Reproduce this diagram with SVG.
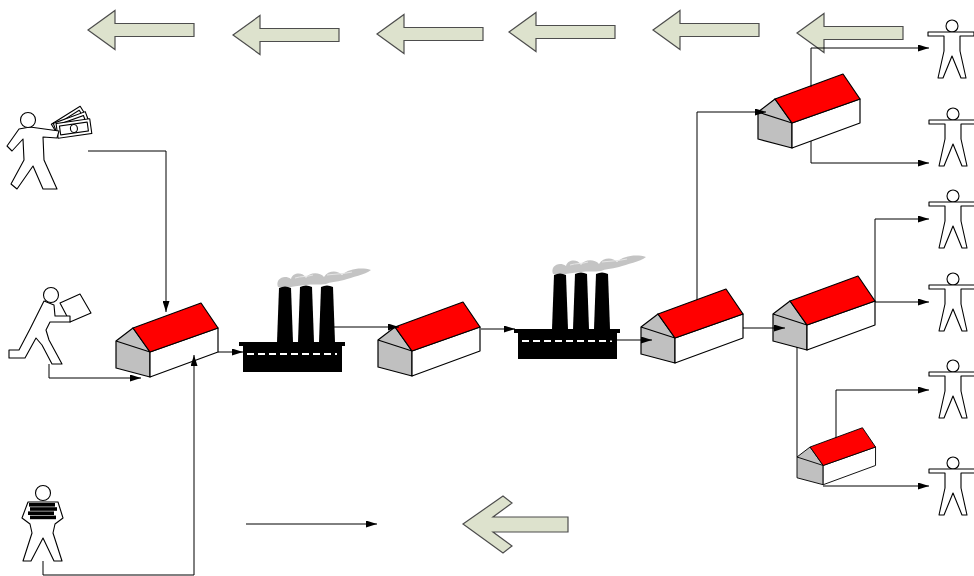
<svg xmlns="http://www.w3.org/2000/svg" xmlns:xlink="http://www.w3.org/1999/xlink" width="974" height="576" viewBox="0 0 974 576">
  <style>
    .bigarrow { fill: #dde2cd; stroke: #4d4d4d; stroke-width: 1.2; stroke-linejoin: miter; }
    .conn { fill: none; stroke: #000; stroke-width: 1; }
    .fig { fill: #fff; stroke: #000; stroke-width: 1.1; stroke-linejoin: round; }
    .wall { fill: #fff; stroke: #000; stroke-width: 1.2; stroke-linejoin: round; }
    .gable { fill: #c0c0c0; stroke: #000; stroke-width: 1.2; stroke-linejoin: round; }
    .roof { fill: #ff0000; stroke: #000; stroke-width: 1.2; stroke-linejoin: round; }
  </style>
  <defs>
    <marker id="ah" viewBox="0 0 10 10" refX="10" refY="5" markerWidth="11" markerHeight="7" markerUnits="userSpaceOnUse" orient="auto" preserveAspectRatio="none">
      <path d="M0,0 L10,5 L0,10 Z" fill="#000"/>
    </marker>
    <!-- left-pointing block arrow, tip at origin -->
    <path id="leftArrow" class="bigarrow" d="M0,0 L27,-19.5 L27,-6.5 L106,-6.5 L106,6.5 L27,6.5 L27,19.5 Z"/>
    <!-- house: origin at top-left corner of the gable end -->
    <g id="house">
      <path class="gable" d="M0,0 L17,-13 L34,11 L34,36 L0,27 Z"/>
      <path class="gable" d="M0,0 L34,11" fill="none"/>
      <path class="wall" d="M34,11 L102,-13 L102,11 L34,36 Z"/>
      <path class="roof" d="M17,-13 L85,-38 L102,-13 L34,11 Z"/>
    </g>
    <!-- factory: origin at top-left of the roof ledge -->
    <g id="factory">
      <path fill="#c4c4c4" d="M39,-55 C36,-63 45,-68 52,-63 C54,-70 64,-70 67,-64 C70,-70 81,-70 85,-65 C89,-72 99,-72 103,-67 C109,-73 122,-75 132,-72 C126,-67 113,-65 105,-62 C97,-60 91,-60 87,-58 C81,-57 73,-58 67,-57 C61,-56 55,-56 52,-55 Z"/>
      <path fill="none" stroke="#e6e6e6" stroke-width="1" d="M56,-64 C62,-66 68,-65 74,-67 M88,-67 C96,-68 104,-68 113,-70"/>
      <path fill="#000" d="M38,0 L40,-54 Q46,-57 52,-54 L54,0 Z"/>
      <path fill="#000" d="M59,0 L61,-55 Q67,-58 73,-55 L75,0 Z"/>
      <path fill="#000" d="M80,0 L82,-55 Q88,-58 94,-55 L96,0 Z"/>
      <rect x="0" y="0" width="106" height="4" fill="#000"/>
      <rect x="4" y="4" width="99" height="26" fill="#000"/>
      <line x1="8" y1="12" x2="98" y2="12" stroke="#fff" stroke-width="2" stroke-dasharray="7 4"/>
    </g>
    <!-- standing person with arms out: origin at top centre of the head -->
    <g id="standing">
      <circle class="fig" cx="0" cy="6" r="6"/>
      <path class="fig" d="M-4,12 H-24 V16 H-8 V31 L-14,58 H-9 L0,36 L9,58 H14 L8,31 V16 H22 V12 H4 Z"/>
    </g>
  </defs>

  <!-- block arrows along the top and bottom -->
  <g id="flow-arrows">
    <use xlink:href="#leftArrow" transform="translate(88,30)"/>
    <use xlink:href="#leftArrow" transform="translate(233,35)"/>
    <use xlink:href="#leftArrow" transform="translate(377,34)"/>
    <use xlink:href="#leftArrow" transform="translate(509,32)"/>
    <use xlink:href="#leftArrow" transform="translate(653,30)"/>
    <use xlink:href="#leftArrow" transform="translate(797,33)"/>
    <path class="bigarrow" d="M463,524 L503,496 L512,503 L493,517 L568,517 L568,532 L493,532 L512,546 L503,553 Z"/>
  </g>

  <!-- suppliers on the left -->
  <g id="supplier-money">
    <g transform="translate(70,122) rotate(-32)">
      <rect class="fig" x="-17" y="-8" width="34" height="15"/>
      <rect class="fig" x="-14" y="-5" width="28" height="9" fill="none"/>
    </g>
    <g transform="translate(72,125) rotate(-20)">
      <rect class="fig" x="-17" y="-8" width="34" height="15"/>
      <rect class="fig" x="-14" y="-5" width="28" height="9" fill="none"/>
    </g>
    <g transform="translate(74,129) rotate(-8)">
      <rect class="fig" x="-17" y="-8" width="34" height="15"/>
      <rect class="fig" x="-14" y="-5" width="28" height="9" fill="none"/>
      <ellipse class="fig" cx="0" cy="-0.5" rx="3.5" ry="4"/>
    </g>
    <path class="fig" d="M19,129 L7,146 L12,151 L23,139 L24,160 L11,184 L17,189 L33,166 L43,189 L57,189 L44,160 L43,137 L57,138 L59,131 L30,127 Z"/>
    <circle class="fig" cx="28" cy="120" r="7.5"/>
  </g>

  <g id="supplier-box">
    <path class="fig" d="M60,303 L80,294 L91,313 L70,322 Z"/>
    <path class="fig" d="M44,301 L30,329 L19,350 L9,350 L9,358 L25,358 L36,338 L42,345 L52,364 L62,364 L49,340 L46,330 L50,322 L70,322 L70,316 L55,316 L54,305 Z"/>
    <circle class="fig" cx="51" cy="295" r="7.5"/>
  </g>

  <g id="supplier-books">
    <path class="fig" d="M28,502 L22,518 L30,524 L32,533 L23,561 L31,561 L43,538 L54,561 L62,561 L53,533 L55,524 L63,518 L58,502 Z"/>
    <rect x="29" y="503" width="26" height="3.6" fill="#000"/>
    <rect x="30" y="507.2" width="27" height="3.6" fill="#000"/>
    <rect x="28" y="511.4" width="26" height="3.6" fill="#000"/>
    <rect x="30" y="515.6" width="26" height="3.6" fill="#000"/>
    <circle class="fig" cx="43" cy="493" r="7.5"/>
  </g>

  <!-- warehouses and factories -->
  <g id="house-1"><use xlink:href="#house" transform="translate(116,341)"/></g>
  <g id="factory-1"><use xlink:href="#factory" transform="translate(239,342)"/></g>
  <g id="house-2"><use xlink:href="#house" transform="translate(378,340)"/></g>
  <g id="factory-2"><use xlink:href="#factory" transform="translate(514,329)"/></g>
  <g id="house-3"><use xlink:href="#house" transform="translate(641,327)"/></g>
  <g id="house-4"><use xlink:href="#house" transform="translate(773,314)"/></g>
  <g id="house-5"><use xlink:href="#house" transform="translate(758,112)"/></g>
  <g id="house-6"><use xlink:href="#house" transform="translate(797,457) scale(0.77)"/></g>

  <!-- customers on the right -->
  <g id="customer-1"><use xlink:href="#standing" transform="translate(952,20)"/></g>
  <g id="customer-2"><use xlink:href="#standing" transform="translate(953,108)"/></g>
  <g id="customer-3"><use xlink:href="#standing" transform="translate(953,190)"/></g>
  <g id="customer-4"><use xlink:href="#standing" transform="translate(953,273)"/></g>
  <g id="customer-5"><use xlink:href="#standing" transform="translate(953,360)"/></g>
  <g id="customer-6"><use xlink:href="#standing" transform="translate(953,457)"/></g>

  <!-- connectors -->
  <g id="connectors">
    <path class="conn" d="M88,151 H166 V312" marker-end="url(#ah)"/>
    <path class="conn" d="M49,364 V378 H141" marker-end="url(#ah)"/>
    <path class="conn" d="M43,561 V575 H194 V355" marker-end="url(#ah)"/>
    <path class="conn" d="M218,352 H243" marker-end="url(#ah)"/>
    <path class="conn" d="M333,327 H399" marker-end="url(#ah)"/>
    <path class="conn" d="M481,329 H515" marker-end="url(#ah)"/>
    <path class="conn" d="M610,340 H652" marker-end="url(#ah)"/>
    <path class="conn" d="M743,328 H785" marker-end="url(#ah)"/>
    <path class="conn" d="M697,300 V112 H766" marker-end="url(#ah)"/>
    <path class="conn" d="M811,87 V48 H929" marker-end="url(#ah)"/>
    <path class="conn" d="M811,141 V163 H929" marker-end="url(#ah)"/>
    <path class="conn" d="M875,302 V219 H929" marker-end="url(#ah)"/>
    <path class="conn" d="M875,302 H929" marker-end="url(#ah)"/>
    <path class="conn" d="M797,347 V457"/>
    <path class="conn" d="M836,438 V390 H929" marker-end="url(#ah)"/>
    <path class="conn" d="M823,486 H929" marker-end="url(#ah)"/>
    <path class="conn" d="M246,524 H377" marker-end="url(#ah)"/>
  </g>
</svg>
